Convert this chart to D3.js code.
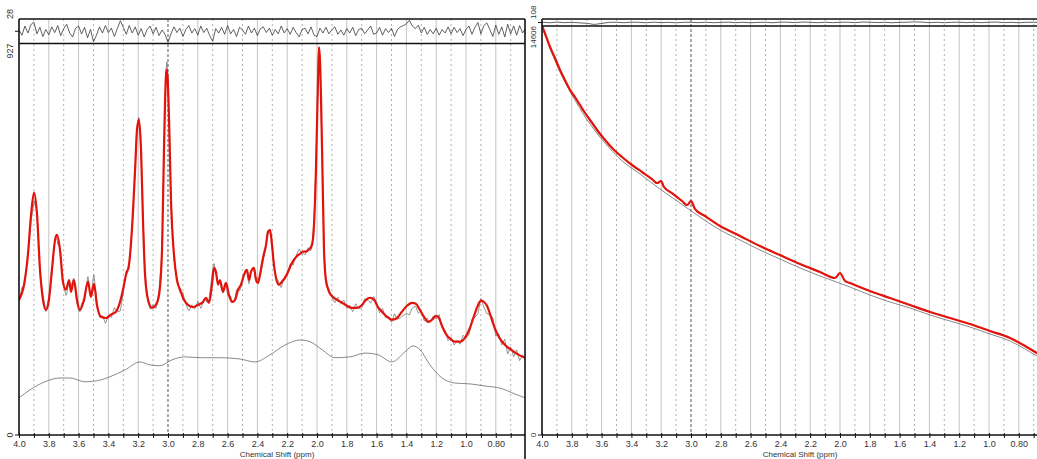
<!DOCTYPE html>
<html>
<head>
<meta charset="utf-8">
<script src="https://cdn.jsdelivr.net/npm/d3@7"></script>
<style>
  body { margin: 0; background: #fff; }
  svg { display: block; }
  text { font-family: "Liberation Sans", Arial, sans-serif; fill: #333; }
</style>
</head>
<body>
<svg id="chart" width="1037" height="459"></svg>
<script>
// ---------- data ----------
// Chemical-shift axis ticks (ppm)
const majorShifts = [4.0, 3.8, 3.6, 3.4, 3.2, 3.0, 2.8, 2.6, 2.4, 2.2, 2.0, 1.8, 1.6, 1.4, 1.2, 1.0, 0.8];
const majorLabels = ["4.0", "3.8", "3.6", "3.4", "3.2", "3.0", "2.8", "2.6", "2.4", "2.2", "2.0", "1.8", "1.6", "1.4", "1.2", "1.0", "0.80"];
const minorShifts = [3.9, 3.7, 3.5, 3.3, 3.1, 2.9, 2.7, 2.5, 2.3, 2.1, 1.9, 1.7, 1.5, 1.3, 1.1, 0.9, 0.7];
const markerShift = 3.0;

// Left panel: fitted spectrum [ppm, intensity]
const leftFit = [[4.000,320],[3.966,356],[3.940,427],[3.919,522],[3.899,574],[3.879,522],[3.859,391],[3.839,320],[3.819,296],[3.799,320],[3.779,391],[3.758,462],[3.745,474],[3.725,439],[3.705,363],[3.685,344],[3.664,367],[3.651,339],[3.631,367],[3.611,320],[3.591,296],[3.564,320],[3.537,363],[3.517,327],[3.497,358],[3.477,308],[3.450,280],[3.416,277],[3.383,285],[3.349,292],[3.322,315],[3.302,344],[3.282,379],[3.262,403],[3.242,486],[3.221,628],[3.208,723],[3.195,747],[3.181,676],[3.168,510],[3.154,379],[3.134,320],[3.107,301],[3.081,308],[3.060,332],[3.040,439],[3.027,676],[3.013,854],[3.007,865],[2.993,747],[2.980,557],[2.960,427],[2.940,367],[2.919,344],[2.893,320],[2.866,308],[2.832,303],[2.799,308],[2.765,315],[2.745,325],[2.725,313],[2.705,356],[2.691,396],[2.678,386],[2.664,356],[2.651,367],[2.631,339],[2.611,360],[2.591,332],[2.570,315],[2.550,320],[2.530,344],[2.510,356],[2.490,379],[2.470,391],[2.456,367],[2.443,386],[2.423,396],[2.409,367],[2.396,360],[2.383,379],[2.362,420],[2.342,450],[2.329,481],[2.315,486],[2.302,450],[2.289,403],[2.275,372],[2.255,356],[2.235,363],[2.215,372],[2.195,386],[2.174,403],[2.154,415],[2.134,424],[2.114,429],[2.094,434],[2.074,434],[2.054,439],[2.034,450],[2.020,498],[2.007,628],[1.993,842],[1.987,918],[1.980,889],[1.966,676],[1.953,439],[1.940,367],[1.919,339],[1.893,327],[1.866,320],[1.832,313],[1.799,306],[1.765,301],[1.732,301],[1.698,308],[1.671,320],[1.644,325],[1.617,320],[1.591,303],[1.564,292],[1.530,280],[1.497,273],[1.463,277],[1.430,292],[1.396,306],[1.362,313],[1.336,311],[1.309,296],[1.282,280],[1.255,268],[1.228,273],[1.201,282],[1.181,277],[1.161,258],[1.134,239],[1.107,228],[1.074,221],[1.040,221],[1.007,230],[0.973,254],[0.946,282],[0.919,308],[0.899,318],[0.879,315],[0.859,306],[0.839,287],[0.812,258],[0.779,232],[0.738,213],[0.698,202],[0.658,192],[0.604,183]];

// Left panel: baseline [ppm, intensity]
const leftBaseline = [[4.000,88],[3.926,107],[3.826,126],[3.725,135],[3.658,135],[3.557,126],[3.456,130],[3.389,138],[3.289,154],[3.188,173],[3.121,166],[3.054,164],[2.973,178],[2.886,185],[2.785,183],[2.651,183],[2.517,180],[2.416,173],[2.315,190],[2.215,213],[2.114,225],[2.047,221],[1.966,202],[1.879,183],[1.779,185],[1.678,194],[1.591,190],[1.497,173],[1.409,197],[1.356,211],[1.309,202],[1.242,166],[1.161,135],[1.074,123],[0.973,121],[0.872,116],[0.772,111],[0.671,97],[0.604,88]];

// Left panel: fit residual, every 0.02 ppm from 4.00
const leftResidual = [
  3, -9, 12, -4, 15, 21, -6, 9, -12, 4,
  -8, 10, -3, 13, -10, 6, 16, -4, -13, 7,
  12, -6, 9, -15, 4, -24, -9, 10, -4, 13,
  -3, 7, -12, 6, 24, 9, -7, 13, -4, 10,
  -9, 6, -13, 4, 12, -6, 9, -10, 3, -7,
  -25, -6, 10, -3, 7, -12, 4, 13, -4, 6,
  -9, 12, -3, 7, -10, -23, 6, -4, 9, -7,
  13, -6, 4, -12, 9, 3, -7, 12, -4, 7,
  -10, 6, 10, -3, 7, -9, 4, -6, 12, -4,
  6, -7, 9, -3, -13, 4, 7, -6, 10, -9,
  -12, 7, -4, 9, -6, 4, 10, -7, 3, -9,
  6, -4, 9, -10, 4, 7, -6, 3, 12, -7,
  -4, 9, -9, 6, -3, 7, -12, 4, 10, 13,
  17, 25, 12, 6, 14, -4, 9, -7, 4, -6,
  7, -9, 4, -4, 10, -6, 9, -3, 6, -10,
  4, 12, -7, 9, 20, -6, 13, 19, 4, -12,
  14, -7, 10, -13, 16, -6, 12, -9, 13, -4, 7
];

// Right panel: fitted spectrum [ppm, intensity]
const rightFit = [[4.000,14606],[3.973,14248],[3.946,13855],[3.913,13463],[3.879,13034],[3.846,12677],[3.812,12320],[3.779,12070],[3.745,11784],[3.711,11499],[3.678,11249],[3.631,10892],[3.577,10534],[3.523,10213],[3.463,9927],[3.396,9642],[3.329,9392],[3.262,9142],[3.228,8999],[3.201,9070],[3.181,8856],[3.128,8642],[3.060,8356],[3.027,8213],[3.000,8356],[2.973,8070],[2.906,7820],[2.805,7463],[2.671,7106],[2.537,6749],[2.403,6428],[2.268,6106],[2.134,5821],[2.034,5606],[2.000,5785],[1.966,5499],[1.933,5428],[1.799,5142],[1.664,4892],[1.530,4642],[1.396,4392],[1.262,4178],[1.128,3964],[0.993,3714],[0.859,3464],[0.758,3178],[0.678,2928],[0.604,2750]];

// Right panel: baseline [ppm, intensity]
const rightBaseline = [[4.000,14570],[3.879,12963],[3.779,11963],[3.678,11106],[3.577,10427],[3.477,9856],[3.342,9320],[3.208,8785],[3.074,8285],[2.940,7785],[2.805,7321],[2.671,6963],[2.537,6606],[2.403,6285],[2.268,5964],[2.134,5678],[1.933,5285],[1.799,4999],[1.664,4749],[1.530,4535],[1.396,4285],[1.262,4071],[1.128,3857],[0.993,3607],[0.859,3357],[0.758,3071],[0.678,2821],[0.604,2643]];

// Right panel: fit residual, every 0.05 ppm from 4.00
const rightResidual = [
  10, -8, 12, -5, 6, -10, -25, -60, -30, 5,
  8, -6, 10, 4, -7, 9, -3, 6, -9, 5,
  7, -4, 8, -6, 3, 10, -5, 7, -8, 4,
  6, -7, 12, 9, -3, 15, 5, -6, 8, -4,
  6, 10, -5, 14, 8, -3, 6, -7, 4, 9,
  18, 12, -4, 7, -6, 5, 9, -3, 6, -5,
  8, 15, -4, 6, -7, 5, 9, -3, 4
];

// ---------- drawing ----------
const svg = d3.select("#chart");
const FIT_COLOR = "#e3120b";

function interp(points, p) {
  // points are ordered by decreasing ppm
  if (p >= points[0][0]) return points[0][1];
  for (let i = 1; i < points.length; i++) {
    if (p >= points[i][0]) {
      const [p0, v0] = points[i - 1], [p1, v1] = points[i];
      const t = (p0 - p) / (p0 - p1);
      return v0 + t * (v1 - v0);
    }
  }
  return points[points.length - 1][1];
}

function drawPanel(cfg) {
  const g = svg.append("g");
  const x = d3.scaleLinear().domain([4.0, cfg.endShift]).range([cfg.x0, cfg.x1]);
  const yMain = d3.scaleLinear().domain([0, cfg.max]).range([cfg.bottom, cfg.mainTop]);
  const yRes = d3.scaleLinear().domain([-cfg.resMax, cfg.resMax]).range([cfg.mainTop, cfg.top]);

  const clipId = "clip" + cfg.id;
  svg.append("clipPath").attr("id", clipId)
    .append("rect").attr("x", cfg.x0).attr("y", cfg.top)
    .attr("width", cfg.x1 - cfg.x0).attr("height", cfg.bottom - cfg.top);

  // vertical grid
  const grid = g.append("g");
  grid.selectAll("line.major").data(majorShifts.filter(d => d < 4.0 && d !== markerShift)).join("line")
    .attr("x1", d => x(d)).attr("x2", d => x(d))
    .attr("y1", cfg.top).attr("y2", cfg.bottom)
    .attr("stroke", "#c4c4c4").attr("stroke-width", 1);
  grid.selectAll("line.minor").data(minorShifts).join("line")
    .attr("x1", d => x(d)).attr("x2", d => x(d))
    .attr("y1", cfg.top).attr("y2", cfg.bottom)
    .attr("stroke", "#b0b0b0").attr("stroke-width", 1).attr("stroke-dasharray", "2,3");
  grid.append("line")
    .attr("x1", x(markerShift)).attr("x2", x(markerShift))
    .attr("y1", cfg.top).attr("y2", cfg.bottom)
    .attr("stroke", "#555").attr("stroke-width", 1).attr("stroke-dasharray", "3,2");

  const plot = g.append("g").attr("clip-path", `url(#${clipId})`);

  // residual strip
  const resPts = cfg.residual.map((r, i) => [4.0 - i * cfg.resStep, r]);
  const resClip = "rclip" + cfg.id;
  svg.append("clipPath").attr("id", resClip)
    .append("rect").attr("x", cfg.x0).attr("y", cfg.top)
    .attr("width", cfg.x1 - cfg.x0).attr("height", cfg.mainTop - cfg.top);
  g.append("path").datum(resPts)
    .attr("clip-path", `url(#${resClip})`)
    .attr("d", d3.line().x(d => x(d[0])).y(d => yRes(d[1])))
    .attr("fill", "none").attr("stroke", "#3a3a3a").attr("stroke-width", 0.8);

  // measured data = fit - residual
  const shifts = Array.from(new Set(cfg.fit.map(d => d[0]).concat(resPts.map(d => d[0]))))
    .sort((a, b) => b - a);
  const raw = shifts.map(p => [p, interp(cfg.fit, p) - interp(resPts, p)]);

  const lineM = d3.line().x(d => x(d[0])).y(d => yMain(d[1]));
  const curveM = d3.line().x(d => x(d[0])).y(d => yMain(d[1])).curve(d3.curveMonotoneX);

  plot.append("path").datum(cfg.baseline).attr("d", curveM)
    .attr("fill", "none").attr("stroke", "#6b6b6b").attr("stroke-width", 0.8);
  plot.append("path").datum(raw).attr("d", lineM)
    .attr("fill", "none").attr("stroke", "#7a7a7a").attr("stroke-width", 0.8);
  plot.append("path").datum(cfg.fit).attr("d", curveM)
    .attr("fill", "none").attr("stroke", FIT_COLOR).attr("stroke-width", 2.2)
    .attr("stroke-linejoin", "round");

  // frame lines
  const frame = g.append("g").attr("stroke", "#111").attr("stroke-width", 1.6);
  frame.append("line").attr("x1", cfg.x0).attr("x2", cfg.x1).attr("y1", cfg.top).attr("y2", cfg.top);
  frame.append("line").attr("x1", cfg.x0).attr("x2", cfg.x1).attr("y1", cfg.mainTop).attr("y2", cfg.mainTop);
  frame.append("line").attr("x1", cfg.x0).attr("x2", cfg.x0).attr("y1", cfg.top).attr("y2", cfg.bottom);
  if (cfg.rightFrame) {
    frame.append("line").attr("x1", cfg.x1).attr("x2", cfg.x1).attr("y1", cfg.top).attr("y2", 459);
  }

  // x axis
  const xAxis = d3.axisBottom(x)
    .tickValues(majorShifts.concat(minorShifts))
    .tickSize(4).tickSizeOuter(0)
    .tickFormat(d => { const i = majorShifts.indexOf(d); return i >= 0 ? majorLabels[i] : ""; });
  const ax = g.append("g").attr("transform", `translate(0,${cfg.bottom})`).call(xAxis);
  ax.select(".domain").attr("stroke", "#111").attr("stroke-width", 1.6)
    .attr("d", `M${cfg.x0},0H${cfg.x1}`);
  ax.selectAll(".tick line").attr("stroke", "#111").attr("y1", -2).attr("y2", 3);
  ax.selectAll(".tick text").attr("y", 6).attr("font-size", 9).attr("fill", "#333")
    .attr("font-family", "Liberation Sans, Arial, sans-serif");

  g.append("text").attr("x", (cfg.x0 + cfg.x1) / 2 + 5).attr("y", 457)
    .attr("text-anchor", "middle").attr("font-size", 8).text("Chemical Shift (ppm)");

  // y labels (rotated)
  const lx = cfg.x0 - 9;
  const ylab = (y, txt, anchor) => g.append("text")
    .attr("transform", `translate(${lx + 3},${y}) rotate(-90)`)
    .attr("text-anchor", anchor).attr("font-size", cfg.labelSize).text(txt);
  ylab(cfg.top, String(cfg.resMax), "start");
  ylab(cfg.mainTop, String(cfg.max), "end");
  ylab(cfg.bottom, "0", "middle");

  // y ticks at zero of strip and main plot
  g.append("line").attr("x1", cfg.x0 - 4).attr("x2", cfg.x0).attr("y1", yMain(0)).attr("y2", yMain(0))
    .attr("stroke", "#111").attr("stroke-width", 1);
  g.append("line").attr("x1", cfg.x0 - 4).attr("x2", cfg.x0).attr("y1", yRes(0)).attr("y2", yRes(0))
    .attr("stroke", "#111").attr("stroke-width", 1);
}

drawPanel({
  id: "L", x0: 19, x1: 525, endShift: 0.604,
  top: 19, mainTop: 43.5, bottom: 435,
  max: 927, resMax: 28, resStep: 0.02, labelSize: 9,
  fit: leftFit, baseline: leftBaseline, residual: leftResidual,
  rightFrame: true
});

drawPanel({
  id: "R", x0: 542, x1: 1048, endShift: 0.604,
  top: 19, mainTop: 26, bottom: 435,
  max: 14606, resMax: 108, resStep: 0.05, labelSize: 8,
  fit: rightFit, baseline: rightBaseline, residual: rightResidual,
  rightFrame: false
});
</script>
</body>
</html>
